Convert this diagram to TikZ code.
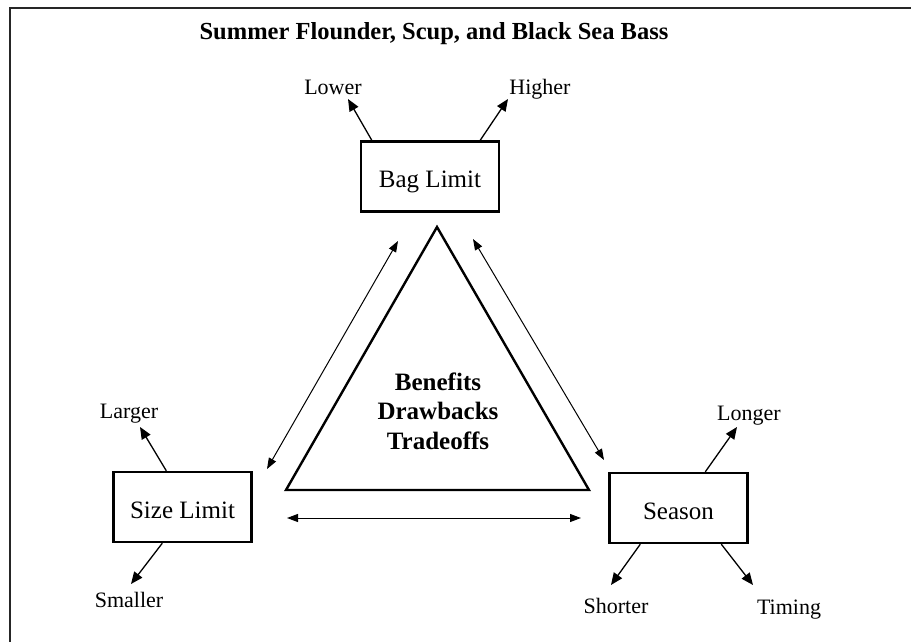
\documentclass[tikz,border=0pt]{standalone}
\usepackage{fontspec}
\setmainfont{Liberation Serif}
\usepackage{tikz}
\usetikzlibrary{arrows.meta, positioning, calc}

\tikzset{
  optbox/.style={draw, line width=2.4pt, minimum width=138pt, minimum height=70pt, inner sep=0pt,
    text height=22pt, text depth=0pt, font=\fontsize{25}{30}\selectfont},
  choice/.style={anchor=base, inner sep=0pt, font=\fontsize{22}{26}\selectfont},
  outarrow/.style={line width=1.3pt, -{Triangle[length=12pt, width=10pt]}},
  linkarrow/.style={line width=1pt, {Triangle[length=11pt, width=8pt]}-{Triangle[length=11pt, width=8pt]}}
}

\begin{document}
\begin{tikzpicture}[x=1pt, y=-1pt]
  \useasboundingbox (0,0) rectangle (911,642);
  % frame (only top and left edge inside the picture)
  \draw[line width=2pt, black!85] (911,8) -- (10,8) -- (10,642);
  \node[anchor=base, inner sep=0pt, font=\bfseries\fontsize{24.5}{29}\selectfont] (title) at (434,40) {Summer Flounder, Scup, and Black Sea Bass};

  % the three regulation boxes
  \node[optbox] (bag) at (430,176.5) {Bag Limit};
  \node[optbox] (size) at (182.5,507) {Size Limit};
  \node[optbox] (season) at (678.5,508) {Season};

  % options
  \node[choice] (lower) at (333,95) {Lower};
  \node[choice] (higher) at (540,95) {Higher};
  \node[choice] (larger) at (129,418) {Larger};
  \node[choice] (smaller) at (129,607) {Smaller};
  \node[choice] (longer) at (749,420) {Longer};
  \node[choice] (shorter) at (616,613) {Shorter};
  \node[choice] (timing) at (789,614) {Timing};

  \coordinate (lowtip) at (348,99);   \coordinate (hightip) at (508,99);
  \coordinate (largetip) at (140,427); \coordinate (smalltip) at (131,584);
  \coordinate (longtip) at (737,427);  \coordinate (shorttip) at (611,585);
  \coordinate (timetip) at (753,585);

  \draw[outarrow] ([xshift=12pt]bag.north west) -- (lowtip);
  \draw[outarrow] ([xshift=-20pt]bag.north east) -- (hightip);
  \draw[outarrow] ([xshift=54pt]size.north west) -- (largetip);
  \draw[outarrow] ([xshift=50pt]size.south west) -- (smalltip);
  \draw[outarrow] ([xshift=97pt]season.north west) -- (longtip);
  \draw[outarrow] ([xshift=32pt]season.south west) -- (shorttip);
  \draw[outarrow] ([xshift=113pt]season.south west) -- (timetip);

  % triangle in the middle
  \coordinate (apex) at (437,227);
  \coordinate (tleft) at (286,490);
  \coordinate (tright) at (589,490);
  \draw[line width=2.4pt, line join=miter] (apex) -- (tleft) -- (tright) -- cycle;
  \node[anchor=base, inner sep=0pt, align=center, font=\bfseries\fontsize{25}{29.5}\selectfont] (effects) at (438,449)
    {Benefits\\Drawbacks\\Tradeoffs};

  % links between the boxes
  \coordinate (l1) at (398,241); \coordinate (l2) at (267,469);
  \coordinate (r1) at (473,239); \coordinate (r2) at (604,460);
  \coordinate (b1) at (287,518); \coordinate (b2) at (581,518);
  \draw[linkarrow] (l1) -- (l2);
  \draw[linkarrow] (r1) -- (r2);
  \draw[linkarrow] (b1) -- (b2);
\end{tikzpicture}
\end{document}
